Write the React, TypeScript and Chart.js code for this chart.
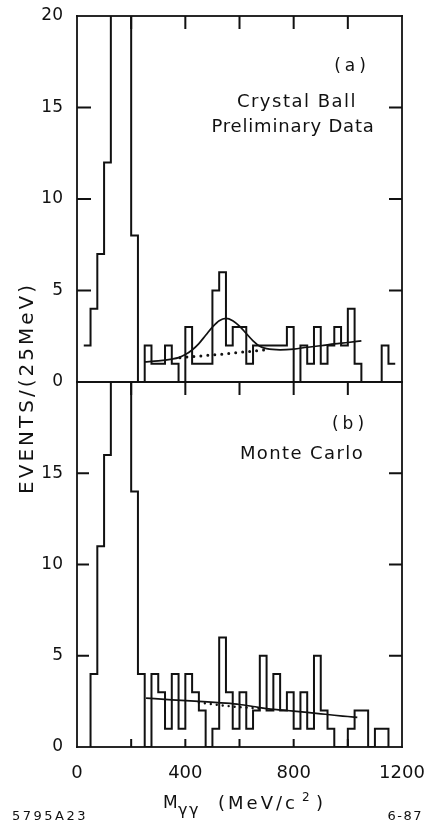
import React, { useEffect, useRef } from "react";
import { Chart, registerables } from "chart.js";

Chart.register(...registerables);

const FONT = '"DejaVu Sans", "Liberation Sans", sans-serif';
const INK = "#111";

// Histogram bin width in MeV
const BIN_WIDTH = 25;

// (a) Crystal Ball preliminary data: events per bin, first bin starts at 25 MeV
const dataFirstBin = 25;
const dataCounts = [
  2, 4, 7, 12, 26, 30, 26, 8, 0, 2, 1, 1, 2, 1, 0, 3, 1, 1, 1, 5, 6, 2, 3, 3,
  1, 2, 2, 2, 2, 2, 3, 0, 2, 1, 3, 1, 2, 3, 2, 4, 1, 0, 0, 0, 2, 1,
];

// (a) fit: signal + background (solid) and background alone (dotted)
const dataFitMass = [250, 300, 350, 375, 400, 425, 450, 475, 500, 525, 550, 575, 600, 625, 650, 675, 700, 750, 800, 850, 900, 950, 1000, 1050];
const dataFitValue = [1.1, 1.15, 1.25, 1.33, 1.5, 1.75, 2.1, 2.55, 3.0, 3.35, 3.48, 3.35, 3.05, 2.65, 2.25, 1.95, 1.82, 1.76, 1.8, 1.9, 1.98, 2.08, 2.16, 2.25];
const dataBgMass = [380, 540, 710];
const dataBgValue = [1.33, 1.53, 1.78];

// (b) Monte Carlo: events per bin, first bin starts at 50 MeV
const mcFirstBin = 50;
const mcCounts = [
  4, 11, 16, 24, 28, 24, 14, 4, 0, 4, 3, 1, 4, 1, 4, 3, 2, 0, 1, 6, 3, 1, 3, 1,
  2, 5, 2, 4, 2, 3, 1, 3, 1, 5, 2, 1, 0, 0, 1, 2, 2, 0, 1, 1,
];

// (b) fit curves
const mcFitMass = [255, 350, 450, 550, 600, 650, 700, 750, 800, 850, 900, 950, 1000, 1035];
const mcFitValue = [2.68, 2.58, 2.5, 2.4, 2.33, 2.22, 2.1, 2.03, 1.97, 1.9, 1.82, 1.74, 1.67, 1.62];
const mcBgMass = [450, 560, 680];
const mcBgValue = [2.44, 2.24, 2.1];

// Axis ticks
const yLabelsTop = [0, 5, 10, 15, 20];
const yLabelsBottom = [0, 5, 10, 15];
const yMarks = [5, 10, 15];
const xLabels = [0, 400, 800, 1200];
const xMarks = [200, 400, 600, 800, 1000];

type Pt = { x: number; y: number };

function histogram(first: number, counts: number[], riseFromZero: boolean, dropToZero: boolean): Pt[] {
  const pts: Pt[] = [];
  if (riseFromZero) pts.push({ x: first, y: 0 });
  counts.forEach((c, i) => pts.push({ x: first + i * BIN_WIDTH, y: c }));
  const end = first + counts.length * BIN_WIDTH;
  pts.push({ x: end, y: dropToZero ? 0 : counts[counts.length - 1] });
  return pts;
}

function curve(mass: number[], value: number[]): Pt[] {
  return mass.map((m, i) => ({ x: m, y: value[i] }));
}

type Label = {
  text: string;
  x: number;
  y: number;
  size: number;
  align?: CanvasTextAlign;
  baseline?: CanvasTextBaseline;
  spacing?: number;
  rotate?: boolean;
};

type FrameOpts = {
  offsetY: number;
  labels: Label[];
  leftLen: number;
  rightLen: number;
  topMarks: number[];
  topLen: number;
  bottomMarks: number[];
  bottomLen: number;
};

const FRAME_W = 1.8;
const TICK_W = 2;

function drawLabel(ctx: CanvasRenderingContext2D, t: Label, offsetY: number) {
  ctx.save();
  ctx.font = `${t.size}px ${FONT}`;
  ctx.fillStyle = INK;
  (ctx as any).letterSpacing = `${t.spacing ?? 0}px`;
  ctx.textAlign = t.align ?? "center";
  ctx.textBaseline = t.baseline ?? "middle";
  const y = t.y - offsetY;
  if (t.rotate) {
    ctx.translate(t.x, y);
    ctx.rotate(-Math.PI / 2);
    ctx.fillText(t.text, 0, 0);
  } else {
    ctx.fillText(t.text, t.x, y);
  }
  ctx.restore();
}

// Draws the box around the panel, the inward tick marks and the panel texts
function framePlugin(o: FrameOpts) {
  return {
    id: "frameAndText",
    afterDatasetsDraw(chart: any) {
      const { ctx, chartArea: a, scales } = chart;
      const xs = scales.x;
      const ys = scales.y;
      const h = FRAME_W / 2;
      const t = TICK_W / 2;
      ctx.save();
      ctx.fillStyle = INK;
      // box
      ctx.fillRect(a.left - h, a.top - h, a.right - a.left + FRAME_W, FRAME_W);
      ctx.fillRect(a.left - h, a.bottom - h, a.right - a.left + FRAME_W, FRAME_W);
      ctx.fillRect(a.left - h, a.top - h, FRAME_W, a.bottom - a.top + FRAME_W);
      ctx.fillRect(a.right - h, a.top - h, FRAME_W, a.bottom - a.top + FRAME_W);
      // inward ticks
      for (const v of yMarks) {
        const py = ys.getPixelForValue(v);
        ctx.fillRect(a.left, py - t, o.leftLen, TICK_W);
        ctx.fillRect(a.right - o.rightLen, py - t, o.rightLen, TICK_W);
      }
      for (const v of o.topMarks) {
        const px = xs.getPixelForValue(v);
        ctx.fillRect(px - t, a.top, TICK_W, o.topLen);
      }
      for (const v of o.bottomMarks) {
        const px = xs.getPixelForValue(v);
        ctx.fillRect(px - t, a.bottom - o.bottomLen, TICK_W, o.bottomLen);
      }
      ctx.restore();
      for (const lab of o.labels) drawLabel(ctx, lab, o.offsetY);
    },
  };
}

function yAxis(labels: number[]) {
  return {
    type: "linear",
    min: 0,
    max: 20,
    afterBuildTicks: (s: any) => {
      s.ticks = labels.map((v) => ({ value: v }));
    },
    afterFit: (s: any) => {
      s.width = 77;
      s.paddingTop = 0;
      s.paddingBottom = 0;
    },
    grid: { display: false, drawTicks: false },
    border: { display: false },
    ticks: {
      color: INK,
      font: { family: FONT, size: 17 },
      padding: 14,
      callback: (v: number) => String(v),
    },
  };
}

function datasets(hist: Pt[], fit: Pt[], bg: Pt[], dot: number, gap: number) {
  return [
    {
      data: hist,
      stepped: "before",
      borderColor: INK,
      borderWidth: 2,
      pointRadius: 0,
      fill: false,
      clip: 0,
    },
    {
      data: fit,
      borderColor: INK,
      borderWidth: 1.7,
      pointRadius: 0,
      cubicInterpolationMode: "monotone",
      fill: false,
    },
    {
      data: bg,
      borderColor: INK,
      borderWidth: dot,
      borderDash: [0, gap],
      borderCapStyle: "round",
      pointRadius: 0,
      cubicInterpolationMode: "monotone",
      fill: false,
    },
  ];
}

const commonOptions = {
  responsive: false,
  animation: false,
  devicePixelRatio: 1,
  events: [],
  plugins: { legend: { display: false }, tooltip: { enabled: false } },
};

const TOP_CANVAS = { y: 0, h: 500 };
const BOTTOM_CANVAS = { y: 370, h: 454 };

export default function App() {
  const topRef = useRef<HTMLCanvasElement>(null);
  const bottomRef = useRef<HTMLCanvasElement>(null);

  useEffect(() => {
    const top = new Chart(topRef.current!, {
      type: "line",
      data: {
        datasets: datasets(
          histogram(dataFirstBin, dataCounts, false, false),
          curve(dataFitMass, dataFitValue),
          curve(dataBgMass, dataBgValue),
          3,
          7
        ) as any,
      },
      options: {
        ...commonOptions,
        layout: { padding: { top: 16, right: 26, bottom: TOP_CANVAS.h - 382, left: 0 } },
        scales: {
          x: { type: "linear", min: 0, max: 1200, display: false },
          y: yAxis(yLabelsTop) as any,
        },
      } as any,
      plugins: [
        framePlugin({
          offsetY: TOP_CANVAS.y,
          leftLen: 14,
          rightLen: 13,
          topMarks: xMarks,
          topLen: 13,
          bottomMarks: [],
          bottomLen: 0,
          labels: [
            { text: "(a)", x: 352, y: 67, size: 17, spacing: 4 },
            { text: "Crystal Ball", x: 297, y: 102, size: 18, spacing: 1.5 },
            { text: "Preliminary Data", x: 293, y: 127, size: 18, spacing: 0.8 },
            { text: "EVENTS/(25MeV)", x: 33, y: 388, size: 20, spacing: 3, rotate: true, baseline: "alphabetic" },
          ],
        }),
      ],
    });

    const bottom = new Chart(bottomRef.current!, {
      type: "line",
      data: {
        datasets: datasets(
          histogram(mcFirstBin, mcCounts, true, true),
          curve(mcFitMass, mcFitValue),
          curve(mcBgMass, mcBgValue),
          2.4,
          6
        ) as any,
      },
      options: {
        ...commonOptions,
        layout: { padding: { top: 382 - BOTTOM_CANVAS.y, right: 26, bottom: 0, left: 0 } },
        scales: {
          x: {
            type: "linear",
            min: 0,
            max: 1200,
            afterBuildTicks: (s: any) => {
              s.ticks = xLabels.map((v) => ({ value: v }));
            },
            afterFit: (s: any) => {
              s.height = BOTTOM_CANVAS.h - (747 - BOTTOM_CANVAS.y);
              s.paddingLeft = 0;
              s.paddingRight = 0;
            },
            grid: { display: false, drawTicks: false },
            border: { display: false },
            ticks: {
              color: INK,
              font: { family: FONT, size: 18 },
              padding: 16,
              maxRotation: 0,
              autoSkip: false,
              callback: (v: number) => String(v),
            },
          },
          y: yAxis(yLabelsBottom) as any,
        },
      } as any,
      plugins: [
        framePlugin({
          offsetY: BOTTOM_CANVAS.y,
          leftLen: 12,
          rightLen: 13,
          topMarks: xMarks,
          topLen: 13,
          bottomMarks: xMarks,
          bottomLen: 8,
          labels: [
            { text: "(b)", x: 350, y: 425, size: 17, spacing: 4 },
            { text: "Monte Carlo", x: 302, y: 454, size: 18, spacing: 1.4 },
            { text: "M", x: 163, y: 808, size: 17, align: "left", baseline: "alphabetic" },
            { text: "γγ", x: 178, y: 815, size: 16, align: "left", baseline: "alphabetic", spacing: 1.5 },
            { text: "(MeV/c", x: 218, y: 809, size: 18, align: "left", baseline: "alphabetic", spacing: 3 },
            { text: "2", x: 302, y: 801, size: 12, align: "left", baseline: "alphabetic" },
            { text: ")", x: 316, y: 809, size: 18, align: "left", baseline: "alphabetic" },
            { text: "5795A23", x: 12, y: 820, size: 13, align: "left", baseline: "alphabetic", spacing: 2.5 },
            { text: "6-87", x: 423, y: 820, size: 13, align: "right", baseline: "alphabetic", spacing: 1.5 },
          ],
        }),
      ],
    });

    return () => {
      top.destroy();
      bottom.destroy();
    };
  }, []);

  return (
    <div style={{ position: "fixed", left: 0, top: 0, width: 428, height: 824, background: "#fff" }}>
      <canvas
        ref={topRef}
        width={428}
        height={TOP_CANVAS.h}
        style={{ position: "absolute", left: 0, top: TOP_CANVAS.y, width: 428, height: TOP_CANVAS.h }}
      />
      <canvas
        ref={bottomRef}
        width={428}
        height={BOTTOM_CANVAS.h}
        style={{ position: "absolute", left: 0, top: BOTTOM_CANVAS.y, width: 428, height: BOTTOM_CANVAS.h }}
      />
    </div>
  );
}
